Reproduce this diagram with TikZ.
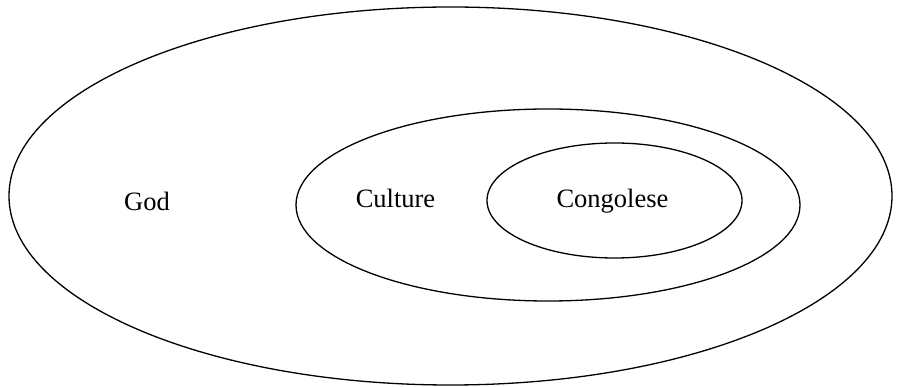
\documentclass[tikz,border=0pt]{standalone}
\usepackage{fontspec}
\setmainfont{Liberation Serif}
\usepackage{tikz}
\tikzstyle{every node}=[font=\fontsize{26.5}{31}\selectfont,anchor=base,inner sep=0pt]
\tikzstyle{ring}=[line width=1.3pt]

\begin{document}
\begin{tikzpicture}[x=1pt,y=-1pt]
\useasboundingbox (0,0) rectangle (898,387);

\coordinate (godc) at (450.5,196);
\coordinate (culturec) at (548,205);
\coordinate (congolesec) at (614.5,200.5);

\draw[ring] (godc) ellipse [x radius=441.5, y radius=189];
\draw[ring] (culturec) ellipse [x radius=252, y radius=96];
\draw[ring] (congolesec) ellipse [x radius=127.5, y radius=57.5];

\node (god) at (147,211) {God};
\node (culture) at (395.5,208) {Culture};
\node (congolese) at (612.5,208) {Congolese};

\end{tikzpicture}
\end{document}
